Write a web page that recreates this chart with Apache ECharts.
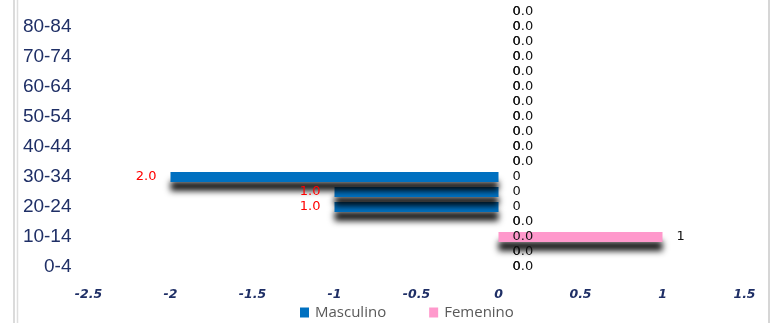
<!DOCTYPE html>
<html>
<head>
<meta charset="utf-8">
<script src="https://cdn.jsdelivr.net/npm/echarts@6/dist/echarts.min.js"></script>
<style>
  html, body { margin: 0; padding: 0; background: #fff; }
  #piramide { width: 779px; height: 323px; }
</style>
</head>
<body>
<div id="piramide"></div>
<script>
// grupos de edad (de abajo hacia arriba)
var grupos = ['0-4', '5-9', '10-14', '15-19', '20-24', '25-29', '30-34', '35-39', '40-44',
  '45-49', '50-54', '55-59', '60-64', '65-69', '70-74', '75-79', '80-84', '85+'];

// hombres en negativo para que vayan a la izquierda
var masculino = [0, 0, 0, 0, -1, -1, -2, 0, 0, 0, 0, 0, 0, 0, 0, 0, 0, 0];
var femenino = [0, 0, 1, 0, 0, 0, 0, 0, 0, 0, 0, 0, 0, 0, 0, 0, 0, 0];

var ejeX = { min: -2.5, max: 1.5, paso: 0.5 };

var navy = '#1f2f66';
var sombra = {
  shadowColor: 'rgba(0,0,0,0.9)',
  shadowBlur: 6,
  shadowOffsetX: 0,
  shadowOffsetY: 9
};

var myChart = echarts.init(document.getElementById('piramide'));

var option = {
  animation: false,
  grid: { top: 4.5, bottom: 48.5, left: 88.5, right: 34.5 },
  legend: {
    data: ['Masculino', 'Femenino'],
    left: 295,
    top: 300,
    icon: 'rect',
    itemWidth: 9,
    itemHeight: 10,
    itemGap: 43,
    textStyle: { color: '#595959', fontFamily: 'Open Sans', fontSize: 15, padding: [0, 0, 0, 1] }
  },
  graphic: [
    { type: 'line', shape: { x1: 14, y1: 0, x2: 14, y2: 323 }, style: { stroke: '#cfcfcf', lineWidth: 1.5 } },
    { type: 'line', shape: { x1: 17.5, y1: 0, x2: 17.5, y2: 323 }, style: { stroke: '#dedede', lineWidth: 1.5 } },
    { type: 'line', shape: { x1: 769, y1: 0, x2: 769, y2: 323 }, style: { stroke: '#d6d6d6', lineWidth: 2 } }
  ],
  xAxis: {
    type: 'value',
    min: ejeX.min,
    max: ejeX.max,
    interval: ejeX.paso,
    axisLine: { show: false },
    axisTick: { show: false },
    splitLine: { show: false },
    axisLabel: {
      margin: 14,
      color: navy,
      fontFamily: 'DejaVu Sans',
      fontSize: 12.5,
      fontWeight: 'bold',
      fontStyle: 'italic'
    }
  },
  yAxis: {
    type: 'category',
    data: grupos,
    axisLine: { show: false },
    axisTick: { show: false },
    axisLabel: {
      interval: 1,
      margin: 17,
      color: navy,
      fontFamily: 'Liberation Sans',
      fontSize: 19
    }
  },
  series: [
    {
      name: 'Masculino',
      type: 'bar',
      barWidth: 10,
      barGap: '-100%',
      itemStyle: Object.assign({ color: '#0070c0' }, sombra),
      data: masculino.map(function (v) {
        // etiqueta roja a la izquierda si hay valor, negra a la derecha si es cero
        return {
          value: v,
          label: v !== 0
            ? { position: 'left', color: '#ff0000' }
            : { position: 'right', color: '#111' }
        };
      }),
      label: {
        show: true,
        distance: 14,
        fontFamily: 'DejaVu Sans',
        fontSize: 13,
        formatter: function (p) { return Math.abs(p.value).toFixed(1); }
      }
    },
    {
      name: 'Femenino',
      type: 'bar',
      barWidth: 10,
      itemStyle: Object.assign({ color: '#ff99cc' }, sombra),
      data: femenino,
      label: {
        show: true,
        position: 'right',
        distance: 14,
        color: '#111',
        fontFamily: 'DejaVu Sans',
        fontSize: 13,
        formatter: function (p) { return String(Math.round(p.value)); }
      }
    }
  ]
};

myChart.setOption(option);
</script>
</body>
</html>
